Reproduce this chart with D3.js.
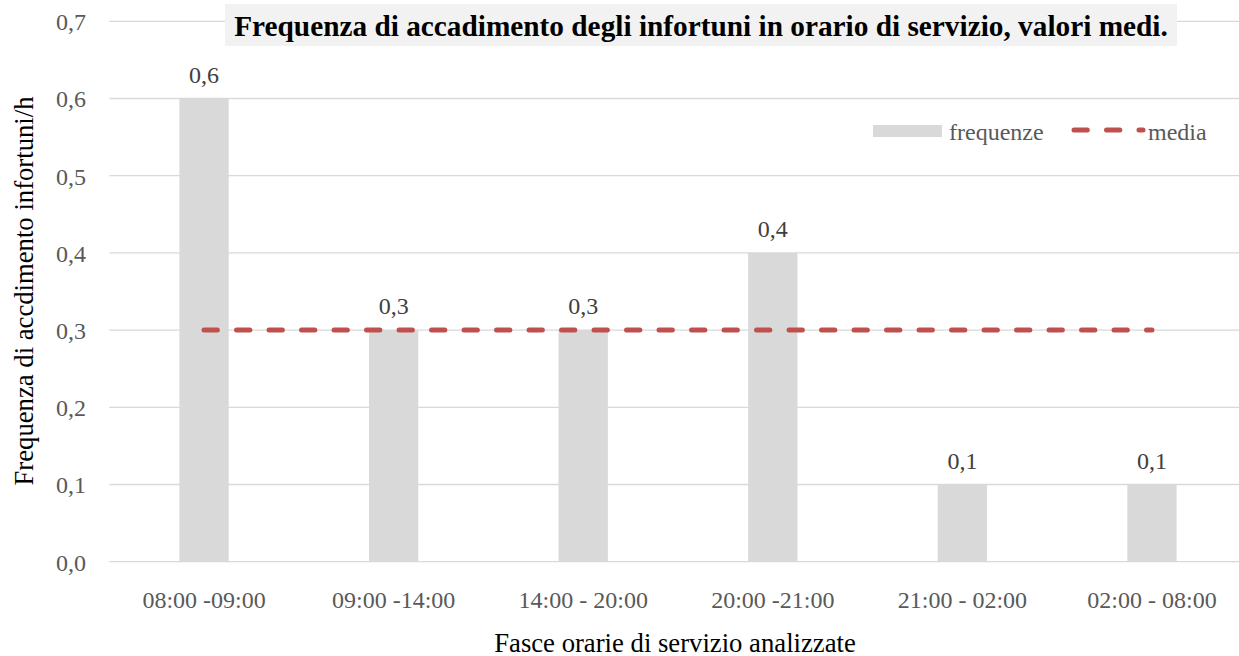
<!DOCTYPE html>
<html>
<head>
<meta charset="utf-8">
<script src="https://cdn.jsdelivr.net/npm/d3@7"></script>
<style>
  body { margin: 0; background: #fff; }
  text { font-family: "Liberation Serif", "Times New Roman", serif; }
</style>
</head>
<body>
<div id="chart"></div>
<script>
var fasce = ["08:00 -09:00", "09:00 -14:00", "14:00 - 20:00", "20:00 -21:00", "21:00 - 02:00", "02:00 - 08:00"];
var frequenze = [0.6, 0.3, 0.3, 0.4, 0.1, 0.1];
var media = [0.3, 0.3, 0.3, 0.3, 0.3, 0.3];
var yTicks = [0, 0.1, 0.2, 0.3, 0.4, 0.5, 0.6, 0.7];

var W = 1239, H = 656;
var left = 109.25, right = 1246.75;

var svg = d3.select("#chart")
  .append("svg")
  .attr("width", W)
  .attr("height", H);

var x = d3.scaleBand()
    .domain(fasce)
    .range([left, right])
    .paddingInner(0.74)
    .paddingOuter(0.37);

var y = d3.scaleLinear()
    .domain([0, 0.7])
    .range([561.7, 21.3]);

var fmt = function(v) { return d3.format(".1f")(v).replace(".", ","); };

// gridlines
svg.append("g").selectAll("line")
  .data(yTicks)
  .enter().append("line")
  .attr("x1", left)
  .attr("x2", W)
  .attr("y1", function(d) { return y(d); })
  .attr("y2", function(d) { return y(d); })
  .attr("stroke", "#d9d9d9")
  .attr("stroke-width", 1.3);

// y labels
var yAxis = d3.axisLeft(y).tickValues(yTicks).tickFormat(fmt).tickSize(0).tickPadding(left - 86);
var gy = svg.append("g")
  .attr("transform", "translate(" + left + ",0)")
  .call(yAxis);
gy.select(".domain").remove();
gy.selectAll("text")
  .attr("dy", "0.35em")
  .style("font-size", "24px")
  .attr("fill", "#595959");

// bars
svg.append("g").selectAll("rect")
  .data(frequenze)
  .enter().append("rect")
  .attr("x", function(d, i) { return x(fasce[i]); })
  .attr("y", function(d) { return y(d); })
  .attr("width", x.bandwidth())
  .attr("height", function(d) { return y(0) - y(d); })
  .attr("fill", "#d9d9d9");

// bar labels
svg.append("g").selectAll("text")
  .data(frequenze)
  .enter().append("text")
  .attr("x", function(d, i) { return x(fasce[i]) + x.bandwidth() / 2; })
  .attr("y", function(d) { return y(d) - 16; })
  .attr("text-anchor", "middle")
  .style("font-size", "24px")
  .attr("fill", "#404040")
  .text(fmt);

// media line
var line = d3.line()
  .x(function(d, i) { return x(fasce[i]) + x.bandwidth() / 2; })
  .y(function(d) { return y(d); });
svg.append("path")
  .datum(media)
  .attr("d", line)
  .attr("fill", "none")
  .attr("stroke", "#c0504d")
  .attr("stroke-width", 5)
  .attr("stroke-linecap", "round")
  .attr("stroke-dasharray", "13.3,19.2");

// x labels
var xAxis = d3.axisBottom(x).tickSize(0).tickPadding(0);
var gx = svg.append("g")
  .attr("transform", "translate(0,607.5)")
  .call(xAxis);
gx.select(".domain").remove();
gx.selectAll("text")
  .attr("dy", 0)
  .style("font-size", "24px")
  .attr("fill", "#595959");

// axis titles
svg.append("text")
  .attr("x", 675)
  .attr("y", 651.5)
  .attr("text-anchor", "middle")
  .style("font-size", "26.7px")
  .attr("fill", "#000")
  .text("Fasce orarie di servizio analizzate");

svg.append("text")
  .attr("transform", "translate(32.5,291) rotate(-90)")
  .attr("text-anchor", "middle")
  .style("font-size", "26.7px")
  .attr("fill", "#000")
  .text("Frequenza di accdimento infortuni/h");

// title
svg.append("rect")
  .attr("x", 225)
  .attr("y", 4)
  .attr("width", 1177 - 225)
  .attr("height", 42)
  .attr("fill", "#f2f2f2");
svg.append("text")
  .attr("x", 701)
  .attr("y", 35.5)
  .attr("text-anchor", "middle")
  .style("font-size", "29.3px")
  .style("font-weight", "bold")
  .attr("fill", "#000")
  .text("Frequenza di accadimento degli infortuni in orario di servizio, valori medi.");

// legend
var leg = svg.append("g");
leg.append("rect")
  .attr("x", 873)
  .attr("y", 125)
  .attr("width", 942 - 873)
  .attr("height", 12)
  .attr("fill", "#d9d9d9");
leg.append("text")
  .attr("x", 949)
  .attr("y", 139.5)
  .style("font-size", "24px")
  .attr("fill", "#595959")
  .text("frequenze");
leg.append("line")
  .attr("x1", 1074)
  .attr("x2", 1143)
  .attr("y1", 130)
  .attr("y2", 130)
  .attr("stroke", "#c0504d")
  .attr("stroke-width", 5)
  .attr("stroke-linecap", "round")
  .attr("stroke-dasharray", "13.3,19.2");
leg.append("text")
  .attr("x", 1148)
  .attr("y", 139.5)
  .style("font-size", "24px")
  .attr("fill", "#595959")
  .text("media");
</script>
</body>
</html>
